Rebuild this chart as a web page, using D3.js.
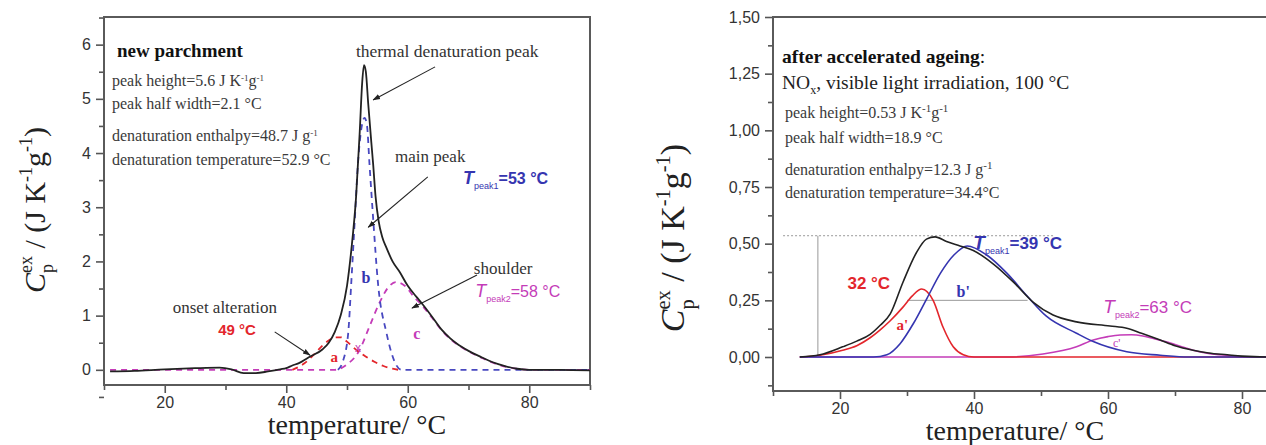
<!DOCTYPE html>
<html>
<head>
  <meta charset="utf-8">
  <title>DSC parchment</title>
  <style type="text/css">
    body { margin: 0; background-color: #fff; }
    svg { display: block; }
    .tick text { font-family: "Liberation Sans", Arial, sans-serif; font-size: 16px; fill: #333; }
    .serif { font-family: "Liberation Serif", "Times New Roman", serif; }
    .sans { font-family: "Liberation Sans", Arial, sans-serif; }
  </style>
  <script src="https://d3js.org/d3.v7.min.js"></script>
</head>
<body>
<script>
// ---- data: new parchment (left) ----
var newTotalT  = [11,15,20,25,29,31,33,35,37,39,40,41,42,44,46,47,48,49,50,50.7,51.5,52.1,52.5,52.8,53.1,53.5,54.0,54.3,54.7,55.2,55.8,56.5,57.5,58.7,60,61.4,62.5,64,65.5,67,68,70,72,74,76,78,80,85,90];
var newTotalCp = [-0.03,-0.02,0.01,0.03,0.04,0.01,-0.06,-0.06,-0.03,0.01,0.03,0.08,0.12,0.25,0.38,0.5,0.7,1.02,1.55,2.2,3.2,4.4,5.3,5.62,5.5,4.9,4.2,3.8,3.2,2.75,2.45,2.25,2.0,1.8,1.55,1.35,1.2,0.98,0.75,0.58,0.49,0.35,0.24,0.14,0.07,0.02,0.0,0.0,-0.01];
var newAT  = [41,43,44.7,46,47.1,48,49,50,51.5,53,54.5,56,57.5,58.5];
var newACp = [0,0.12,0.3,0.45,0.55,0.6,0.6,0.52,0.37,0.25,0.15,0.07,0.02,0];
var newBT  = [48.5,49.3,50.2,50.7,51.3,51.8,52.3,52.9,53.3,53.7,54.3,55.1,56.5,58.1,59,90];
var newBCp = [0,0.15,0.68,1.6,2.8,3.8,4.4,4.65,4.5,3.8,2.8,1.6,0.68,0.09,0,0];
var newCT  = [11,20,30,40,48,50,52,53.7,55.4,57,58,59.5,61,62.5,64,65.5,67,68,70,72,74,76,78,80,85,90];
var newCCp = [0,0,0,0,0,0.1,0.35,0.8,1.25,1.55,1.62,1.55,1.35,1.17,0.96,0.74,0.57,0.48,0.34,0.23,0.13,0.06,0.02,0,0,0];

// ---- data: after accelerated ageing (right) ----
var agedTotalT  = [14,17,20.4,22.5,24.5,26,27.5,29.4,31.4,32.9,34.2,35.9,37.9,39.9,42.9,45.9,48.9,51.8,55.3,60.3,62.8,65,67.8,70,72.7,75,77.8,80,85,90];
var agedTotalCp = [0,0.01,0.045,0.07,0.1,0.14,0.19,0.33,0.46,0.52,0.53,0.51,0.49,0.47,0.41,0.33,0.24,0.185,0.155,0.137,0.127,0.105,0.075,0.05,0.03,0.018,0.01,0.004,0,0];
var agedAT  = [14,17,20.4,22.5,24.5,26,27.5,29.4,30.8,32.2,33.9,35.4,36.9,38.4,40,50,60,70,80,90];
var agedACp = [0,0.008,0.03,0.05,0.085,0.12,0.16,0.22,0.27,0.30,0.25,0.13,0.045,0.01,0,0,0,0,0,0];
var agedBT  = [14,20,25,27,29,31,33,35,37,39,41.9,44.9,47.9,50.8,55.3,57.8,62.8,67.8,72,80,90];
var agedBCp = [0,0,0,0.01,0.06,0.15,0.26,0.37,0.45,0.49,0.45,0.37,0.27,0.18,0.105,0.068,0.023,0.008,0,0,0];
var agedCT  = [14,30,45,50.3,55.3,57.8,60,61.8,63.5,65.2,67,69.3,71,72.7,75,78,80,90];
var agedCCp = [0,0,0,0.013,0.045,0.075,0.09,0.097,0.098,0.093,0.08,0.062,0.045,0.03,0.016,0.006,0,0];

// ---- ticks ----
var xTicks = [20, 40, 60, 80];
var xMinor = [10, 30, 50, 70, 90];
var yTicksNew = [0, 1, 2, 3, 4, 5, 6];
var yMinorNew = [-0.5, 0.5, 1.5, 2.5, 3.5, 4.5, 5.5, 6.5];
var yTicksAged = [0, 0.25, 0.5, 0.75, 1.0, 1.25, 1.5];
var yMinorAged = [-0.125, 0.125, 0.375, 0.625, 0.875, 1.125, 1.375];

var RED = "#e3262c", BLUE = "#3535b0", MAG = "#c43cb8", BLK = "#222";

var svg = d3.select("body").append("svg").attr("width", 1266).attr("height", 445);

svg.append("defs").append("marker")
  .attr("id", "arr").attr("viewBox", "0 0 10 10").attr("refX", 9).attr("refY", 5)
  .attr("markerWidth", 7).attr("markerHeight", 7).attr("orient", "auto")
  .append("path").attr("d", "M0,1.5 L10,5 L0,8.5 z").attr("fill", "#222");

// text with sub/superscripts
function rich(sel, parts) {
  var cur = 0;
  parts.forEach(function(p) {
    var sh = p.sh || 0;
    var ts = sel.append("tspan").text(p.t).attr("dy", sh - cur);
    cur = sh;
    if (p.fs) ts.attr("font-size", p.fs);
    if (p.fst) ts.attr("font-style", p.fst);
    if (p.fw) ts.attr("font-weight", p.fw);
    if (p.dx) ts.attr("dx", p.dx);
  });
  return sel;
}

function panel(o) {
  var x = d3.scaleLinear().domain(o.xDomain).range(o.xRange);
  var y = d3.scaleLinear().domain(o.yDomain).range(o.yRange);
  var g = svg.append("g");

  // axes
  g.append("g").attr("transform", "translate(0," + o.yRange[0] + ")")
    .call(d3.axisBottom(x).tickValues(xTicks).tickSize(8).tickSizeOuter(0).tickPadding(4));
  g.append("g").attr("transform", "translate(0," + o.yRange[0] + ")")
    .call(d3.axisBottom(x).tickValues(xMinor).tickSize(5).tickFormat(""));
  g.append("g").attr("transform", "translate(" + o.xRange[0] + ",0)")
    .call(d3.axisLeft(y).tickValues(o.yTicks).tickSize(8).tickSizeOuter(0).tickPadding(5).tickFormat(o.yFmt));
  g.append("g").attr("transform", "translate(" + o.xRange[0] + ",0)")
    .call(d3.axisLeft(y).tickValues(o.yMinor).tickSize(5).tickFormat(""));
  g.selectAll(".domain").remove();
  g.selectAll(".tick line").attr("stroke", "#555").attr("stroke-width", 1.6);

  g.append("rect")
    .attr("x", o.xRange[0]).attr("y", o.yRange[1])
    .attr("width", o.xRange[1] - o.xRange[0]).attr("height", o.yRange[0] - o.yRange[1])
    .attr("fill", "none").attr("stroke", "#5a5a5a").attr("stroke-width", 2);

  var line = d3.line().x(function(d) { return x(d[0]); }).y(function(d) { return y(d[1]); })
    .curve(d3.curveMonotoneX);

  o.series.forEach(function(s) {
    g.append("path").datum(d3.zip(s.t, s.v))
      .attr("d", line).attr("fill", "none")
      .attr("stroke", s.color).attr("stroke-width", s.w || 1.6)
      .attr("stroke-dasharray", s.dash || null);
  });
  return {g: g, x: x, y: y};
}

// ================= left panel =================
var L = panel({
  xDomain: [10, 90], xRange: [104, 590],
  yDomain: [-0.28, 6.51], yRange: [385, 17],
  yTicks: yTicksNew, yMinor: yMinorNew, yFmt: d3.format("d"),
  series: [
    {t: newCT, v: newCCp, color: MAG, dash: "6,5", w: 1.8},
    {t: newBT, v: newBCp, color: "#4848c0", dash: "6,5", w: 1.8},
    {t: newAT, v: newACp, color: RED, dash: "6,5", w: 1.8},
    {t: newTotalT, v: newTotalCp, color: BLK, w: 1.8}
  ]
});

function arrow(P, a) {
  P.g.append("line")
    .attr("x1", P.x(a[0])).attr("y1", P.y(a[1])).attr("x2", P.x(a[2])).attr("y2", P.y(a[3]))
    .attr("stroke", "#222").attr("stroke-width", 1.1).attr("marker-end", "url(#arr)");
}
function label(P, T, v, anchor, cls, size, color, parts) {
  var t = P.g.append("text").attr("class", cls)
    .attr("x", P.x(T)).attr("y", P.y(v)).attr("text-anchor", anchor)
    .attr("font-size", size).attr("fill", color);
  return rich(t, parts);
}

// arrows: [T1, Cp1, T2, Cp2]
arrow(L, [38.1, 0.70, 43.9, 0.27]);
arrow(L, [64.5, 5.59, 54.3, 4.98]);
arrow(L, [63.3, 3.56, 53.5, 2.63]);
arrow(L, [71.4, 1.75, 60.7, 1.14]);

label(L, 66.5, 5.77, "middle", "serif", 17.5, "#333", [{t: "thermal denaturation peak"}]);
label(L, 63.7, 3.83, "middle", "serif", 17, "#333", [{t: "main peak"}]);
label(L, 69.1, 3.43, "start", "sans", 16, BLUE,
  [{t: "T", fst: "italic", fw: "bold", fs: 18}, {t: "peak1", sh: 5, fs: 9}, {t: "=53 °C", fw: "bold"}]);
label(L, 75.7, 1.77, "middle", "serif", 17, "#333", [{t: "shoulder"}]);
label(L, 71.1, 1.34, "start", "sans", 16, MAG,
  [{t: "T", fst: "italic", fs: 18}, {t: "peak2", sh: 5, fs: 9}, {t: "=58 °C"}]);
label(L, 29.9, 1.05, "middle", "serif", 17, "#333", [{t: "onset alteration"}]);
label(L, 31.9, 0.64, "middle", "sans", 15, RED, [{t: "49 °C", fw: "bold"}]);
label(L, 47.9, 0.14, "middle", "serif", 15, RED, [{t: "a", fw: "bold"}]);
label(L, 53.1, 1.60, "middle", "serif", 16, BLUE, [{t: "b", fw: "bold"}]);
label(L, 61.5, 0.57, "middle", "serif", 16, MAG, [{t: "c", fw: "bold"}]);
label(L, 51.8, 0.33, "middle", "sans", 12, MAG, [{t: "x"}]);

// info block
var infoL = [
  [{t: "new parchment", fw: "bold", fs: 19}],
  [{t: "peak height=5.6 J K"}, {t: "-1", sh: -5, fs: 9}, {t: "g", sh: 0}, {t: "-1", sh: -5, fs: 9}],
  [{t: "peak half width=2.1 °C"}],
  [{t: "denaturation enthalpy=48.7 J g"}, {t: "-1", sh: -5, fs: 9}],
  [{t: "denaturation temperature=52.9 °C"}]
];
var infoLy = [57, 86, 109, 141, 165];
infoL.forEach(function(parts, i) {
  var t = svg.append("text").attr("class", "serif")
    .attr("x", i === 0 ? 117 : 112).attr("y", infoLy[i])
    .attr("font-size", 16).attr("fill", i === 0 ? "#111" : "#3a3a3a");
  rich(t, parts);
});

// axis titles
svg.append("text").attr("class", "serif").attr("x", 357).attr("y", 434)
  .attr("text-anchor", "middle").attr("font-size", 28).attr("fill", "#222").text("temperature/ °C");

function yTitle(cx, cy, fs) {
  var t = svg.append("text").attr("class", "serif")
    .attr("transform", "translate(" + cx + "," + cy + ") rotate(-90)")
    .attr("text-anchor", "middle").attr("font-size", fs).attr("fill", "#222");
  var s = fs * 0.6;
  rich(t, [
    {t: "C", fst: "italic"},
    {t: "p", sh: fs * 0.28, fs: s},
    {t: "ex", sh: -fs * 0.42, fs: s, dx: -s * 0.5},
    {t: " / (J K", sh: 0},
    {t: "-1", sh: -fs * 0.42, fs: s},
    {t: "g", sh: 0},
    {t: "-1", sh: -fs * 0.42, fs: s},
    {t: ")", sh: 0}
  ]);
}
yTitle(45, 210, 30);

// ================= right panel =================
var R = panel({
  xDomain: [10, 90], xRange: [773, 1309],
  yDomain: [-0.15, 1.5], yRange: [391, 17],
  yTicks: yTicksAged, yMinor: yMinorAged, yFmt: function(d) { return d.toFixed(2).replace(".", ","); },
  series: [
    {t: agedCT, v: agedCCp, color: MAG, w: 1.6},
    {t: agedAT, v: agedACp, color: RED, w: 1.6},
    {t: agedBT, v: agedBCp, color: BLUE, w: 1.6},
    {t: agedTotalT, v: agedTotalCp, color: BLK, w: 1.6}
  ]
});

// guide lines for peak height and half width: [T1, Cp1, T2, Cp2, dash]
var guides = [
  [16.7, 0, 16.7, 0.535, null],
  [11.5, 0.535, 52, 0.535, "2,2"],
  [30, 0.25, 48, 0.25, null]
];
guides.forEach(function(gd) {
  R.g.insert("line", "path")
    .attr("x1", R.x(gd[0])).attr("y1", R.y(gd[1])).attr("x2", R.x(gd[2])).attr("y2", R.y(gd[3]))
    .attr("stroke", "#999").attr("stroke-width", 1).attr("stroke-dasharray", gd[4]);
});

label(R, 24.3, 0.30, "middle", "sans", 17, RED, [{t: "32 °C", fw: "bold"}]);
label(R, 29.3, 0.12, "middle", "serif", 15, RED, [{t: "a'", fw: "bold"}]);
label(R, 38.4, 0.265, "middle", "serif", 16, BLUE, [{t: "b'", fw: "bold"}]);
label(R, 39.9, 0.476, "start", "sans", 17, BLUE,
  [{t: "T", fst: "italic", fw: "bold", fs: 19}, {t: "peak1", sh: 5, fs: 9}, {t: "=39 °C", fw: "bold"}]);
label(R, 59.3, 0.194, "start", "sans", 17, MAG,
  [{t: "T", fst: "italic", fs: 19}, {t: "peak2", sh: 5, fs: 9}, {t: "=63 °C"}]);
label(R, 61.3, 0.044, "middle", "serif", 12, MAG, [{t: "c'"}]);

var infoR = [
  {x: 782, y: 63, fs: 19.5, fill: "#111", parts: [{t: "after accelerated ageing", fw: "bold"}, {t: ":"}]},
  {x: 782, y: 89, fs: 19.5, fill: "#222", parts: [{t: "NO"}, {t: "x", sh: 5, fs: 12}, {t: ", visible light irradiation, 100 °C", sh: 0}]},
  {x: 785, y: 118, fs: 16, fill: "#3a3a3a", parts: [{t: "peak height=0.53 J K"}, {t: "-1", sh: -6, fs: 11}, {t: "g", sh: 0}, {t: "-1", sh: -6, fs: 11}]},
  {x: 785, y: 143, fs: 16, fill: "#3a3a3a", parts: [{t: "peak half width=18.9 °C"}]},
  {x: 785, y: 175, fs: 16, fill: "#3a3a3a", parts: [{t: "denaturation enthalpy=12.3 J g"}, {t: "-1", sh: -6, fs: 11}]},
  {x: 785, y: 198, fs: 16, fill: "#3a3a3a", parts: [{t: "denaturation temperature=34.4°C"}]}
];
infoR.forEach(function(r) {
  var t = svg.append("text").attr("class", "serif").attr("x", r.x).attr("y", r.y)
    .attr("font-size", r.fs).attr("fill", r.fill);
  rich(t, r.parts);
});

svg.append("text").attr("class", "serif").attr("x", 1015).attr("y", 440)
  .attr("text-anchor", "middle").attr("font-size", 28).attr("fill", "#222").text("temperature/ °C");
yTitle(684, 238, 34);
</script>
</body>
</html>
